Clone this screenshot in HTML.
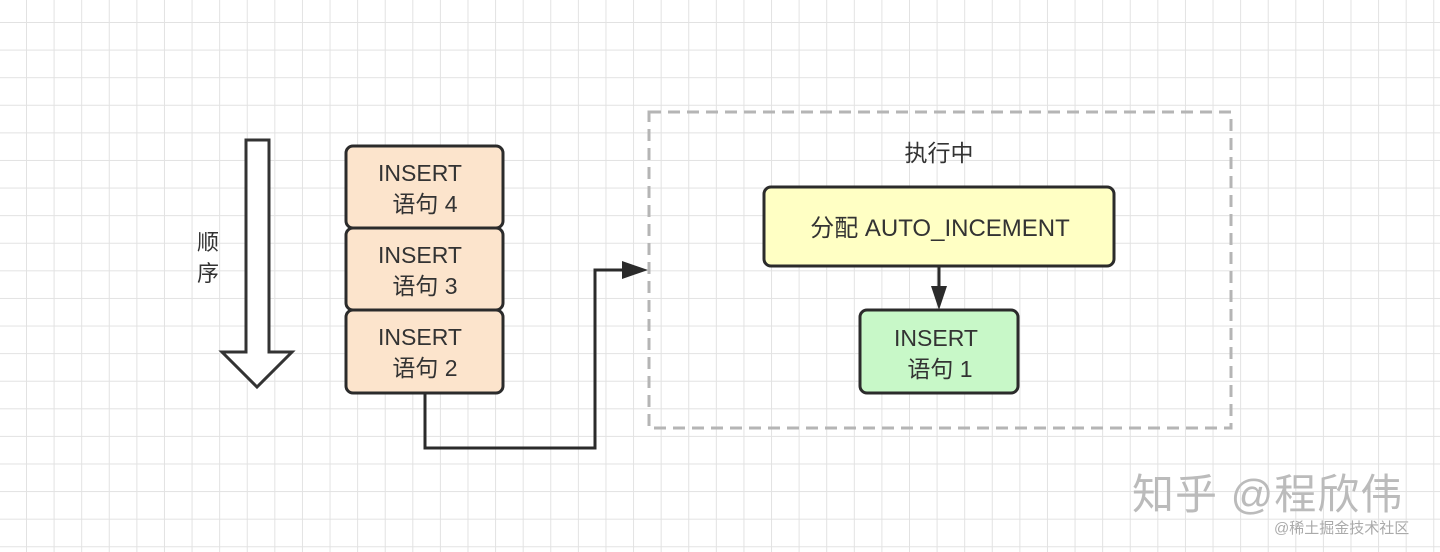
<!DOCTYPE html>
<html><head><meta charset="utf-8"><style>
body{margin:0;width:1440px;height:552px;overflow:hidden;background:#fff;
background-image:linear-gradient(#e2e2e2 1px,transparent 1px),linear-gradient(90deg,#e2e2e2 1px,transparent 1px);
background-size:27.6px 27.6px;background-position:26px 22px;font-family:"Liberation Sans","Noto Sans CJK SC",sans-serif;}
</style></head><body>
<svg width="1440" height="552" style="position:absolute;left:0;top:0" font-family="Liberation Sans, Noto Sans CJK SC, sans-serif">
<polygon points="246,140 269,140 269,352 292,352 257,387 222,352 246,352" fill="#fff" stroke="#333" stroke-width="3" stroke-linejoin="miter"/>
<text x="197" y="250" font-size="22" fill="#333">顺</text>
<text x="197" y="281" font-size="22" fill="#333">序</text>
<g fill="#fce4cc" stroke="#2b2b2b" stroke-width="3">
<rect x="346" y="146" width="157" height="82" rx="7"/>
<rect x="346" y="228" width="157" height="82" rx="7"/>
<rect x="346" y="310" width="157" height="83" rx="7"/>
</g>
<g font-size="23" fill="#333" text-anchor="middle">
<text x="420" y="181">INSERT</text><text x="425" y="212">语句 4</text>
<text x="420" y="263">INSERT</text><text x="425" y="294">语句 3</text>
<text x="420" y="345">INSERT</text><text x="425" y="376">语句 2</text>
</g>
<polyline points="425,393 425,448 595,448 595,270 626,270" fill="none" stroke="#2b2b2b" stroke-width="3"/>
<polygon points="622,261 648,270 622,279" fill="#2b2b2b"/>
<rect x="649" y="112" width="582" height="316" fill="none" stroke="#b5b5b5" stroke-width="3" stroke-dasharray="12,7"/>
<text x="939" y="161" font-size="23" fill="#333" text-anchor="middle">执行中</text>
<rect x="764" y="187" width="350" height="79" rx="7" fill="#ffffc4" stroke="#2b2b2b" stroke-width="3"/>
<text x="940" y="236" font-size="24" fill="#333" text-anchor="middle">分配 AUTO_INCEMENT</text>
<line x1="939" y1="266" x2="939" y2="290" stroke="#2b2b2b" stroke-width="3"/>
<polygon points="931,286 947,286 939,310" fill="#2b2b2b"/>
<rect x="860" y="310" width="158" height="83" rx="7" fill="#c8f8c8" stroke="#2b2b2b" stroke-width="3"/>
<text x="936" y="346" font-size="23" fill="#333" text-anchor="middle">INSERT</text>
<text x="940" y="377" font-size="23" fill="#333" text-anchor="middle">语句 1</text>
<text x="1132" y="509" font-size="42" fill="#bbb" letter-spacing="1">知乎 @程欣伟</text>
<text x="1274" y="533" font-size="15" fill="#aaa">@稀土掘金技术社区</text>
</svg>
</body></html>
